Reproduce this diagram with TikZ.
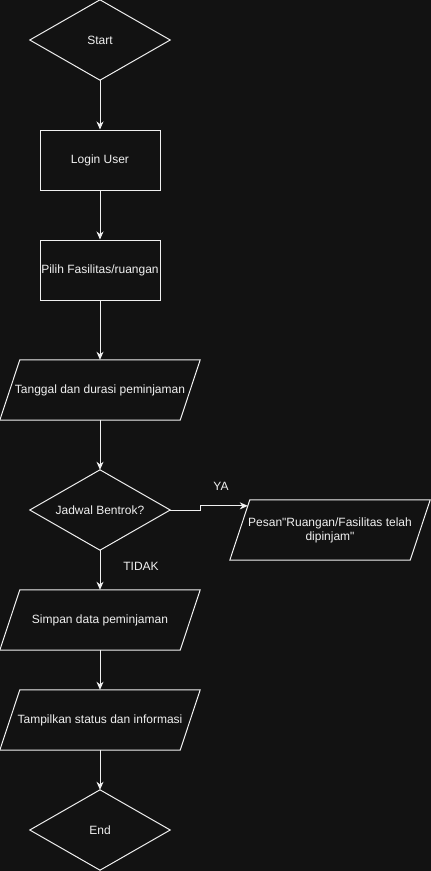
\documentclass[tikz,border=0pt]{standalone}
\usepackage{fontspec}
\setmainfont{Liberation Sans}[Ligatures=TeXOff]
\usetikzlibrary{arrows.meta,calc}
\definecolor{bg}{HTML}{121212}
\definecolor{fg}{HTML}{F0F0F0}
\tikzset{
  box/.style={draw=fg, line width=1pt, minimum width=120pt, minimum height=60pt, inner sep=0pt, text=fg, font=\fontsize{12}{14}\selectfont},
  blank/.style={draw=none, minimum width=#1, minimum height=60pt, inner sep=0pt, text=fg, font=\fontsize{12}{14}\selectfont, align=center},
  dia/.style={draw=none, minimum width=140pt, minimum height=80pt, inner sep=0pt, text=fg, font=\fontsize{12}{14}\selectfont},
  shapeline/.style={draw=fg, line width=1pt, line join=miter},
  conn/.style={draw=fg, line width=1pt, -{Stealth[length=8pt,width=7pt,inset=2.5pt]}},
  lbl/.style={text=fg, font=\fontsize{12}{14}\selectfont, inner sep=0pt}
}
\begin{document}
\begin{tikzpicture}[x=1pt,y=-1pt]
\fill[bg] (0,0) rectangle (431,871);
\useasboundingbox (0,0) rectangle (431,871);
% nodes
\node[dia] (s) at (100,40) {Start};
\node[box] (l) at (100,160) {Login User};
\node[box] (f) at (100,270) {Pilih Fasilitas/ruangan};
\node[blank=200pt] (t) at (100,390) {Tanggal dan durasi peminjaman};
\node[dia] (j) at (100,510) {Jadwal Bentrok?};
\node[blank=200pt] (p) at (330,530) {Pesan"Ruangan/Fasilitas telah\\dipinjam"};
\node[blank=200pt] (sd) at (100,620) {Simpan data peminjaman};
\node[blank=200pt] (ts) at (100,720) {Tampilkan status dan informasi};
\node[dia] (e) at (100,830) {End};
% diamond outlines
\foreach \n in {s,j,e}{
  \draw[shapeline] (\n.north) -- (\n.east) -- (\n.south) -- (\n.west) -- cycle;
}
% parallelogram outlines
\foreach \n in {t,p,sd,ts}{
  \draw[shapeline] ($(\n.north west)+(20,0)$) -- (\n.north east) -- ($(\n.south east)+(-20,0)$) -- (\n.south west) -- cycle;
}
\coordinate (pnw) at ($(p.north west)+(20,0)$);
\coordinate (pin) at ($(p.south west)!0.9!(pnw)$);
% connectors
\draw[conn] (s.south) -- (l.north);
\draw[conn] (l.south) -- (f.north);
\draw[conn] (f.south) -- (t.north);
\draw[conn] (t.south) -- (j.north);
\draw[conn] (j.east) -- ++(30,0) |- (pin);
\draw[conn] (j.south) -- (sd.north);
\draw[conn] (sd.south) -- (ts.north);
\draw[conn] (ts.south) -- (e.north);
% labels
\node[lbl] (ya) at (221,486) {YA};
\node[lbl] (tidak) at (141,566) {TIDAK};
\end{tikzpicture}
\end{document}
